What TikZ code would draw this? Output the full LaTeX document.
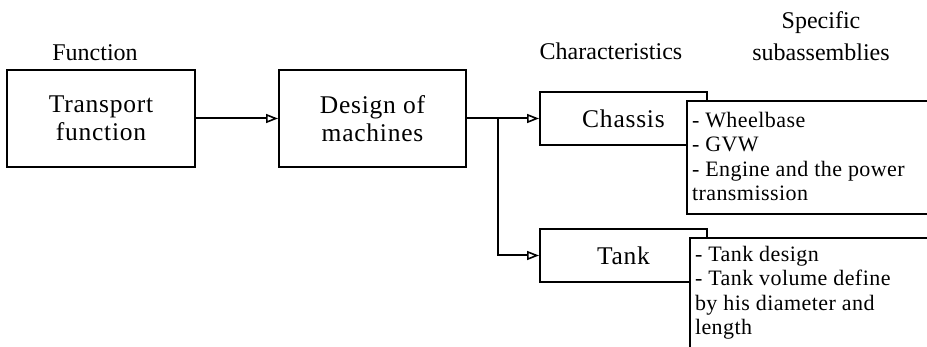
\documentclass[tikz,border=0pt]{standalone}
\usepackage{fontspec}
\setmainfont{Liberation Serif}
\newfontfamily\spacedserif[LetterSpace=3]{Liberation Serif}
\newfontfamily\listserif[LetterSpace=2]{Liberation Serif}
\usetikzlibrary{arrows.meta}

\begin{document}
\begin{tikzpicture}[x=1pt, y=-1pt, line width=2pt,
  box/.style={draw, fill=white, align=center, inner sep=0pt,
    font=\spacedserif\fontsize{25.5}{28.5}\selectfont},
  head/.style={anchor=base, inner sep=0pt, align=center,
    font=\fontsize{24}{32.5}\selectfont},
  listtext/.style={anchor=base west, inner sep=0pt, align=left,
    font=\listserif\fontsize{22}{24.5}\selectfont},
  listframe/.style={fill=white},
  link/.style={-{Triangle[open, length=12pt, width=9pt, line width=1.6pt]}}
]
\useasboundingbox (0,0) rectangle (927,347);

% column headings (base anchor sits on the last line)
\node[head] (hfun) at (95,61) {Function};
\node[head] (hchar) at (611,60) {Characteristics};
\node[head] (hsub) at (821,61) {Specific\\subassemblies};

% main chain
\node[box, minimum width=188pt, minimum height=97pt] (tf) at (101,118.5) {Transport\\function};
\node[box, minimum width=187pt, minimum height=97pt] (dm) at (372.5,118.5) {Design of\\machines};
\node[box, minimum width=167pt, minimum height=53pt] (ch) at (623.5,118.5) {Chassis};
\node[box, minimum width=167pt, minimum height=53pt] (tk) at (623.5,255.5) {Tank};

\coordinate (split) at (498,118.5);

\draw[link] (tf) -- (dm);
\draw[link] (dm.east) -- (ch.west);
\draw[link] (split) |- (tk.west);

% subassembly lists, running off the right and bottom edges
\fill[listframe] (687,101) rectangle (940,214);
\draw (940,101) -- (687,101) -- (687,214) -- (940,214);
\node[listtext] (chl) at (691,201) {- Wheelbase\\- GVW\\- Engine and the power\\transmission};

\fill[listframe] (690,238) rectangle (940,360);
\draw (940,238) -- (690,238) -- (690,360);
\node[listtext] (tkl) at (694,335) {- Tank design\\- Tank volume define\\by his diameter and\\length};
\end{tikzpicture}
\end{document}
